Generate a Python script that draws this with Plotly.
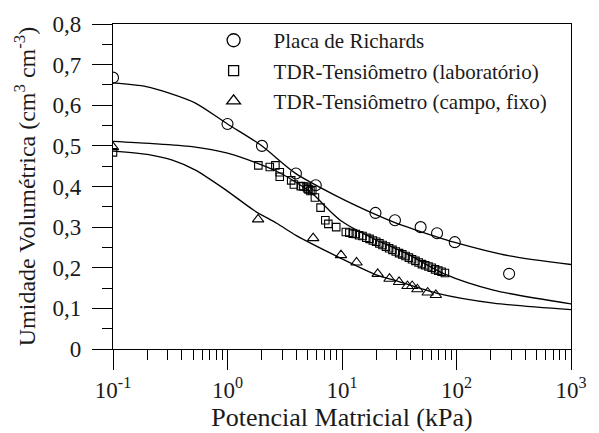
import plotly.graph_objects as go

# ---- data ----
richards_x = [0.1, 1.0, 2.0, 3.96, 5.9, 19.6, 29.0, 48.6, 67.6, 96.6, 288.0]
richards_y = [0.668, 0.554, 0.500, 0.432, 0.403, 0.335, 0.317, 0.300, 0.285, 0.263, 0.185]

lab_x = [0.1, 1.86, 2.34, 2.62, 2.86, 2.86, 3.6, 3.8, 4.36, 4.6, 4.9, 5.0, 5.1, 5.3, 5.5,
         5.8, 6.5, 7.15, 7.6, 8.9,
         10.8, 11.6, 12.4, 13.2, 14.1, 15.1, 16.3, 17.4, 18.6, 19.9, 21.2, 22.6, 24.2,
         25.8, 27.6, 29.5, 31.5, 33.6, 35.9, 38.4, 40.9, 43.8, 46.7, 49.9, 53.3, 56.9,
         60.8, 65.0, 69.4, 74.1, 79.2]
lab_y = [0.484, 0.452, 0.448, 0.452, 0.435, 0.424, 0.415, 0.405, 0.401, 0.400, 0.399, 0.395,
         0.393, 0.389, 0.391,
         0.373, 0.348, 0.317, 0.308, 0.300,
         0.288, 0.286, 0.284, 0.283, 0.280, 0.278, 0.274, 0.271, 0.267, 0.264, 0.260, 0.256,
         0.252, 0.248, 0.244, 0.240, 0.236, 0.233, 0.229, 0.225, 0.221, 0.217, 0.213, 0.209,
         0.206, 0.203, 0.200, 0.196, 0.193, 0.190, 0.187]

campo_x = [0.1, 1.85, 5.6, 9.8, 13.4, 20.5, 26.0, 31.5, 37.3, 41.0, 45.5, 56.0, 66.0]
campo_y = [0.497, 0.319, 0.273, 0.231, 0.213, 0.185, 0.173, 0.165, 0.155, 0.155, 0.147, 0.139, 0.133]

# fitted curves, points
fitA_x = [0.1, 0.195, 0.31, 0.52, 1.0, 1.95, 3.9, 8.9, 20, 29, 43, 95, 292, 1000]
fitA_y = [0.655, 0.646, 0.630, 0.606, 0.554, 0.502, 0.433, 0.377, 0.330, 0.311, 0.294, 0.263, 0.229, 0.208]

fitB_x = [0.1, 0.21, 0.49, 1.0, 1.83, 2.71, 4.0, 5.6, 7.5, 10.1, 19.6, 35.4, 78, 210, 1000]
fitB_y = [0.511, 0.506, 0.498, 0.482, 0.457, 0.437, 0.410, 0.381, 0.345, 0.313, 0.269, 0.237, 0.185, 0.145, 0.111]

fitC_x = [0.1, 0.21, 0.33, 0.52, 0.95, 1.71, 2.71, 4.0, 9.5, 20.5, 29, 68, 210, 1000]
fitC_y = [0.487, 0.478, 0.465, 0.441, 0.393, 0.341, 0.309, 0.279, 0.225, 0.181, 0.169, 0.137, 0.113, 0.097]

legend_names = ["Placa de Richards", "TDR-Tensiômetro (laboratório)", "TDR-Tensiômetro (campo, fixo)"]

y_ticks = [0, 0.1, 0.2, 0.3, 0.4, 0.5, 0.6, 0.7, 0.8]
y_ticktext = ["0", "0,1", "0,2", "0,3", "0,4", "0,5", "0,6", "0,7", "0,8"]
y_minor = [0.05, 0.15, 0.25, 0.35, 0.45, 0.55, 0.65, 0.75]
x_ticks = [0.1, 1, 10, 100, 1000]
x_ticktext = ["10<sup>-1</sup>", "10<sup>0</sup>", "10<sup>1</sup>", "10<sup>2</sup>", "10<sup>3</sup>"]
x_minor = [m * d for d in [0.1, 1, 10, 100] for m in range(2, 10)]

FONT = "Liberation Serif"
TXT = "#1a1a1a"
fig = go.Figure()

for fx, fy in [(fitA_x, fitA_y), (fitB_x, fitB_y), (fitC_x, fitC_y)]:
    fig.add_trace(go.Scatter(x=fx, y=fy, mode="lines", line=dict(color="black", width=1.3, shape="spline", smoothing=0.8),
                             showlegend=False, hoverinfo="skip"))

fig.add_trace(go.Scatter(x=richards_x, y=richards_y, mode="markers", showlegend=False,
                         marker=dict(symbol="circle-open", size=11, color="black", line=dict(width=1.1))))
fig.add_trace(go.Scatter(x=lab_x, y=lab_y, mode="markers", showlegend=False,
                         marker=dict(symbol="square-open", size=7.5, color="black", line=dict(width=1.1))))
fig.add_trace(go.Scatter(x=campo_x, y=campo_y, mode="markers", showlegend=False,
                         marker=dict(symbol="triangle-up-open", size=10, color="black", line=dict(width=1.1))))

for name, sym, sz in zip(legend_names, ["circle-open", "square-open", "triangle-up-open"], [13, 10, 12]):
    fig.add_trace(go.Scatter(x=[None], y=[None], mode="markers", name=name, legendgroup=name,
                             marker=dict(symbol=sym, size=sz, color="black", line=dict(width=1.3))))

axis_common = dict(showline=True, linecolor="black", linewidth=1.3, mirror=True, ticks="outside",
                   tickcolor="black", tickwidth=1.3, ticklen=20, showgrid=False, zeroline=False)

fig.update_xaxes(type="log", range=[-1, 3], tickmode="array", tickvals=x_ticks, ticktext=x_ticktext,
                 tickfont=dict(family=FONT, size=23, color=TXT),
                 minor=dict(tickvals=x_minor, ticks="outside", ticklen=10, tickcolor="black", tickwidth=1.3),
                 title=dict(text="Potencial Matricial (kPa)", font=dict(family=FONT, size=26, color=TXT), standoff=0),
                 **axis_common)
fig.update_yaxes(range=[0, 0.8], tickmode="array", tickvals=y_ticks, ticktext=y_ticktext,
                 tickfont=dict(family=FONT, size=23, color=TXT),
                 minor=dict(tickvals=y_minor, ticks="outside", ticklen=10, tickcolor="black", tickwidth=1.3),
                 ticklabelstandoff=6,
                 title=dict(text="Umidade Volumétrica (cm<sup>3</sup> cm<sup>-3</sup>)",
                            font=dict(family=FONT, size=24, color=TXT), standoff=10),
                 **axis_common)

fig.update_layout(
    width=599, height=433,
    margin=dict(l=113, r=22, t=20, b=81),
    paper_bgcolor="white", plot_bgcolor="white",
    font=dict(family=FONT, color=TXT),
    legend=dict(x=0.176, y=1.012, xanchor="left", yanchor="top", itemwidth=70,
                font=dict(family=FONT, size=21, color=TXT), bgcolor="rgba(0,0,0,0)",
                tracegroupgap=0),
)

fig.write_html("out.html")
